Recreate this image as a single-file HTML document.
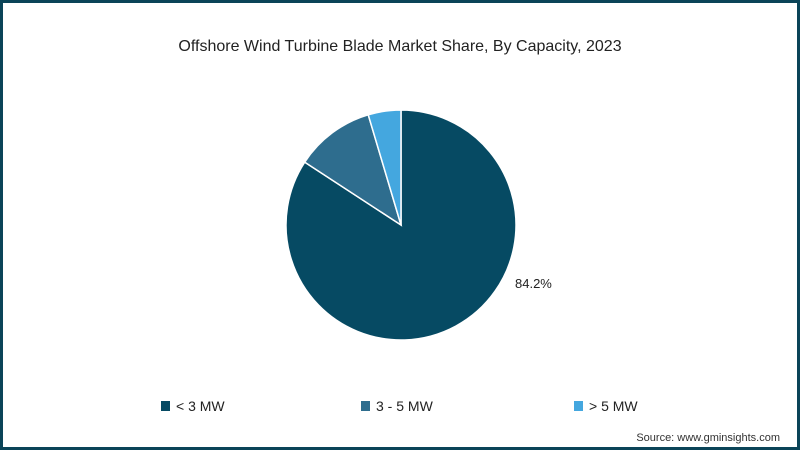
<!DOCTYPE html>
<html><head><meta charset="utf-8"><style>
html,body{margin:0;padding:0;background:#fff}
#wrap{position:relative;width:800px;height:450px;box-sizing:border-box;border:3px solid #0b4458;background:#fff;font-family:"Liberation Sans",sans-serif;overflow:hidden}
</style></head><body>
<div id="wrap">
<svg id="chart" width="794" height="444" viewBox="3 3 794 444" style="position:absolute;left:0;top:0">
<text x="400" y="51" text-anchor="middle" font-size="16" fill="#222" font-family="Liberation Sans, sans-serif">Offshore Wind Turbine Blade Market Share, By Capacity, 2023</text>
<g id="slices"></g>
<text x="515" y="288" font-size="13" fill="#222" font-family="Liberation Sans, sans-serif">84.2%</text>
<g id="legend"></g>
<text x="780" y="441" text-anchor="end" font-size="11" fill="#333" font-family="Liberation Sans, sans-serif">Source: www.gminsights.com</text>
</svg>
</div>
<script>
const categories=["< 3 MW","3 - 5 MW","> 5 MW"];
const values=[84.2,11.2,4.6];
const colors=["#064a63","#2e6d8e","#44a7df"];
const cx=401,cy=225,r=115;
const ns="http://www.w3.org/2000/svg";
const total=values.reduce((a,b)=>a+b,0);
let a0=0;
const g=document.getElementById('slices');
values.forEach((v,i)=>{
  const a1=a0+v/total*2*Math.PI;
  const x0=cx+r*Math.sin(a0),y0=cy-r*Math.cos(a0);
  const x1=cx+r*Math.sin(a1),y1=cy-r*Math.cos(a1);
  const large=(a1-a0)>Math.PI?1:0;
  const p=document.createElementNS(ns,'path');
  p.setAttribute('d',`M${cx},${cy}L${x0},${y0}A${r},${r} 0 ${large} 1 ${x1},${y1}Z`);
  p.setAttribute('fill',colors[i]);
  p.setAttribute('stroke','#fff');
  p.setAttribute('stroke-width','1.5');
  
  
  g.appendChild(p);
  a0=a1;
});
const lg=document.getElementById('legend');
const lx=[161,361,574];
categories.forEach((c,i)=>{
  const rc=document.createElementNS(ns,'rect');
  rc.setAttribute('x',lx[i]);rc.setAttribute('y',401);rc.setAttribute('width',9);rc.setAttribute('height',10);
  rc.setAttribute('fill',colors[i]);
  
  
  lg.appendChild(rc);
  const t=document.createElementNS(ns,'text');
  t.setAttribute('x',lx[i]+15);t.setAttribute('y',411);t.setAttribute('font-size','14');t.setAttribute('fill','#222');
  t.textContent=c;
  
  
  lg.appendChild(t);
});
</script>
</body></html>
